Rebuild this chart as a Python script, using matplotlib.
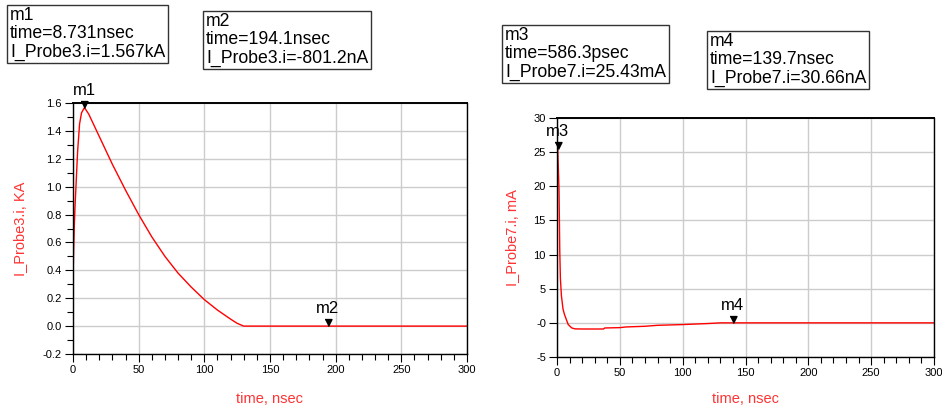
import numpy as np
import matplotlib
matplotlib.use('Agg')
import matplotlib.pyplot as plt
from matplotlib.ticker import MultipleLocator, FixedLocator

plt.rcParams['font.family'] = ['Liberation Sans', 'DejaVu Sans']

# I_Probe3.i (kA) vs time (nsec)
t3 = [0, 0.05, 0.5, 1.0, 1.5, 2.5, 3.5, 5.0, 6.5, 8.731, 12, 16, 20, 25, 30, 40, 50,
      60, 70, 80, 90, 100, 110, 120, 125, 130, 150, 194.1, 250, 300]
i3 = [0, 0.35, 0.55, 0.72, 0.85, 1.05, 1.25, 1.45, 1.53, 1.567, 1.52, 1.44, 1.36, 1.26,
      1.16, 0.975, 0.80, 0.64, 0.50, 0.38, 0.28, 0.19, 0.115, 0.05, 0.02, 0.0, 0.0, 0.0,
      0.0, 0.0]

# I_Probe7.i (mA) vs time (nsec)
t7 = [0, 0.05, 0.5863, 1.0, 1.6, 2.2, 2.7, 3.5, 4.8, 6.0, 7.0, 8.9, 11.6, 14.2, 20, 37,
      38, 50, 55, 70, 80, 100, 120, 130, 139.7, 200, 300]
i7 = [0, 25.43, 25.43, 23.0, 19.5, 10.5, 6.5, 4.0, 2.0, 1.2, 0.7, -0.24, -0.73, -0.88,
      -0.9, -0.9, -0.75, -0.7, -0.6, -0.5, -0.36, -0.25, -0.1, 0.0, 0.0, 0.0, 0.0]

# markers: name, time, value
m_left = [('m1', 8.731, 1.567), ('m2', 194.1, 0.0)]
m_right = [('m3', 0.5863, 25.43), ('m4', 139.7, 0.0)]

# readout boxes
boxes = [
    ('m1\ntime=8.731nsec\nI_Probe3.i=1.567kA', 10, 7),
    ('m2\ntime=194.1nsec\nI_Probe3.i=-801.2nA', 206, 13),
    ('m3\ntime=586.3psec\nI_Probe7.i=25.43mA', 505, 27),
    ('m4\ntime=139.7nsec\nI_Probe7.i=30.66nA', 710, 33),
]

W, H = 942, 412
fig = plt.figure(figsize=(W / 100, H / 100), dpi=100)

RED = '#ff0000'
LBL = '#ff3333'
tri = [(-1, 2), (1, 2), (0, 0)]


def style(ax, xlab, ylab, ylab_x, xlab_y):
    ax.set_xlim(0, 300)
    ax.xaxis.set_major_locator(MultipleLocator(50))
    ax.xaxis.set_minor_locator(MultipleLocator(10))
    ax.grid(True, which='major', color='#cccccc', lw=1.0)
    ax.set_axisbelow(True)
    for s in ax.spines.values():
        s.set_color('black')
        s.set_linewidth(1.0)
    ax.spines['top'].set_linewidth(1.4)
    ax.tick_params(which='major', length=6, width=0.8, labelsize=8, pad=2)
    ax.tick_params(which='minor', length=4, width=0.8)
    ax.set_xlabel(xlab, color=LBL, fontsize=10.5)
    ax.set_ylabel(ylab, color=LBL, fontsize=10.5)
    ax.yaxis.set_label_coords(ylab_x, 0.5)
    ax.xaxis.set_label_coords(0.5, xlab_y)


def markers(ax, pts):
    for name, x, y in pts:
        ax.plot([x], [y], marker=tri, ms=10, color='black', clip_on=False, zorder=5)
        ax.annotate(name, (x, y), xytext=(0, 7), textcoords='offset points',
                    ha='center', va='bottom', fontsize=12, annotation_clip=False)


# left plot
ax1 = fig.add_axes([73 / W, 1 - 354 / H, 394 / W, 251 / H])
ax1.plot(t3, i3, color=RED, lw=1.0)
ax1.set_ylim(-0.2, 1.6)
ax1.yaxis.set_major_locator(MultipleLocator(0.2))
ax1.yaxis.set_minor_locator(MultipleLocator(0.1))
ax1.yaxis.set_major_formatter(lambda v, p: f'{v:.1f}')
style(ax1, 'time, nsec', 'I_Probe3.i, KA', -0.117, -0.15)
markers(ax1, m_left)

# right plot
ax2 = fig.add_axes([557 / W, 1 - 357 / H, 377 / W, 239 / H])
ax2.plot(t7, i7, color=RED, lw=1.0)
ax2.set_ylim(-5, 30)
yt = [-5, 0, 5, 10, 15, 20, 25, 30]
ax2.yaxis.set_major_locator(FixedLocator(yt))
ax2.set_yticklabels(['-5', '-0', '5', '10', '15', '20', '25', '30'])
style(ax2, 'time, nsec', 'I_Probe7.i, mA', -0.10, -0.145)
markers(ax2, m_right)

for txt, x, y in boxes:
    fig.text(x / W, 1 - y / H, txt, ha='left', va='top', fontsize=12.7, linespacing=1.1,
             bbox=dict(boxstyle='square,pad=0.15', fc='white', ec='#333333', lw=1.0))

fig.savefig('out.png', dpi=100)
